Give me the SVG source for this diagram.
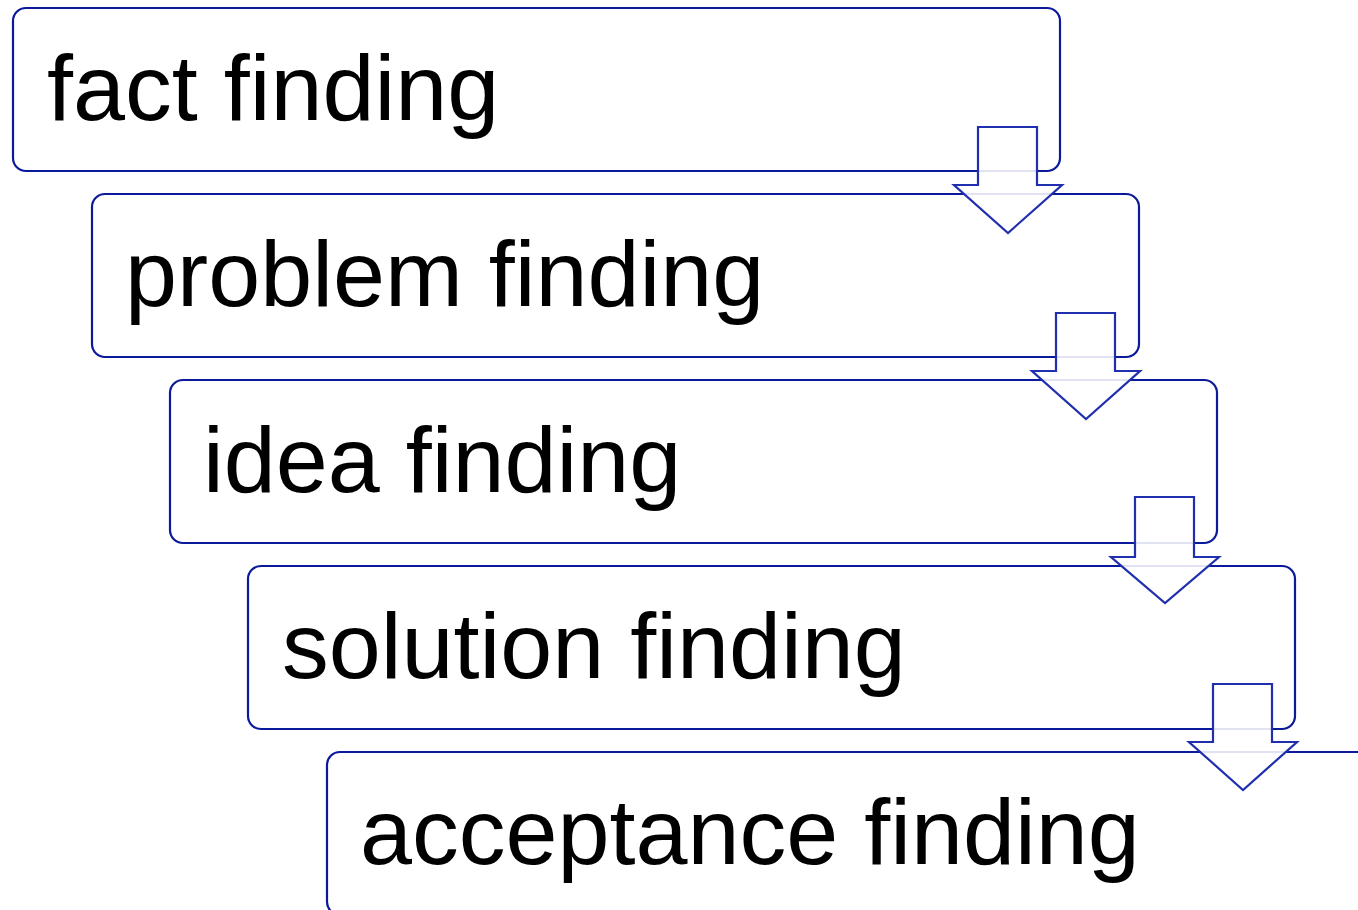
<svg xmlns="http://www.w3.org/2000/svg" width="1358" height="910" viewBox="0 0 1358 910">
<style>
.box{fill:#ffffff;stroke:#0a1a9a;stroke-width:2.2}
.lbl{font-family:"Liberation Sans",Arial,sans-serif;font-size:93.5px;fill:#000000}
.arr{fill:#ffffff;fill-opacity:0.88;stroke:#1f2fae;stroke-width:2.2;stroke-linejoin:miter}
</style>
<rect width="1358" height="910" fill="#ffffff"/>
<g id="node1"><rect class="box" x="13" y="8" width="1047" height="163" rx="13"/><text class="lbl" x="47" y="120">fact finding</text></g>
<g id="node2"><rect class="box" x="92" y="194" width="1047" height="163" rx="13"/><text class="lbl" x="125" y="306">problem finding</text></g>
<g id="node3"><rect class="box" x="170" y="380" width="1047" height="163" rx="13"/><text class="lbl" x="203" y="492">idea finding</text></g>
<g id="node4"><rect class="box" x="248" y="566" width="1047" height="163" rx="13"/><text class="lbl" x="282" y="678">solution finding</text></g>
<g id="node5"><rect class="box" x="327" y="752" width="1047" height="163" rx="13"/><text class="lbl" x="360" y="864">acceptance finding</text></g>
<g id="connectors">
<path class="arr" d="M978,127 H1037 V185 H1062 L1008,233 L954,185 H978 Z"/>
<path class="arr" d="M1056,313 H1115 V371 H1140 L1086,419 L1032,371 H1056 Z"/>
<path class="arr" d="M1135,497 H1194 V557 H1219 L1165,603 L1111,557 H1135 Z"/>
<path class="arr" d="M1213,684 H1272 V742 H1297 L1243,790 L1189,742 H1213 Z"/>
</g>
</svg>
